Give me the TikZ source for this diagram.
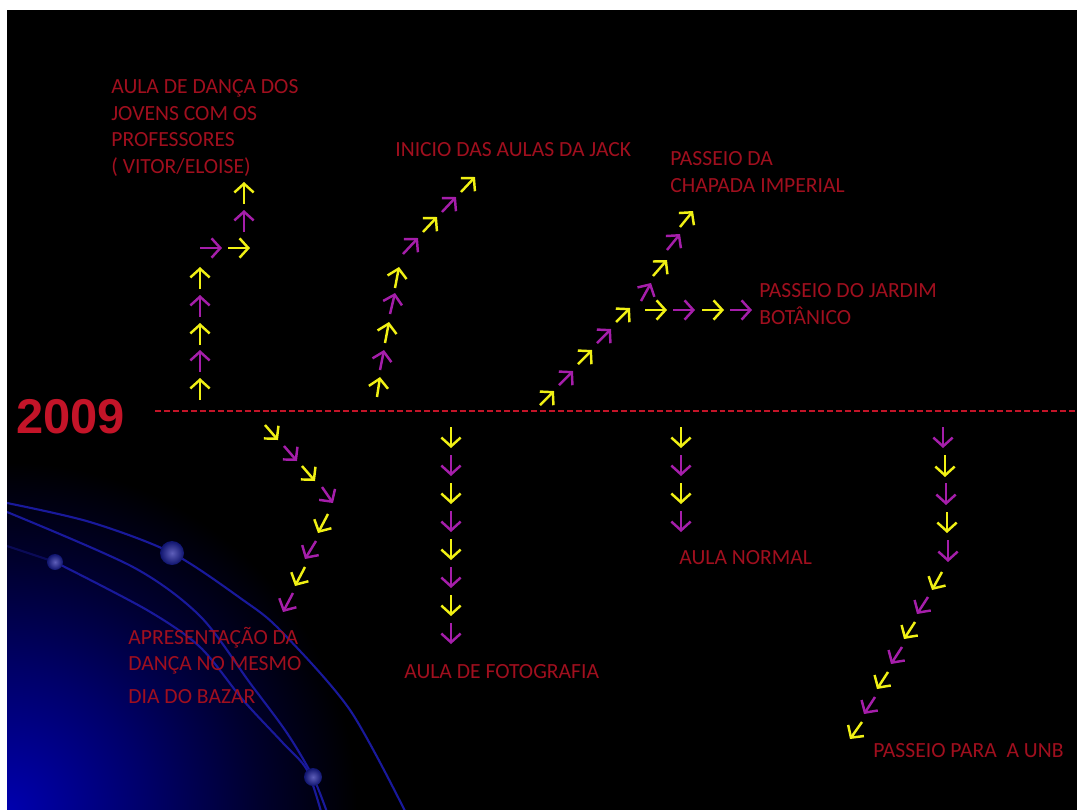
\documentclass[tikz,border=0pt]{standalone}
\usepackage{fontspec}
\setmainfont{Carlito}
\newfontfamily\anofont{Liberation Sans}
\usetikzlibrary{arrows.meta}

\definecolor{amarelo}{RGB}{240,240,20}
\definecolor{roxo}{RGB}{165,30,170}
\definecolor{vermelho}{RGB}{160,15,30}
\definecolor{vermelhoano}{RGB}{195,20,40}
\definecolor{azulfundo}{RGB}{0,0,175}
\definecolor{azulmeio}{RGB}{0,0,105}
\definecolor{azulescuro}{RGB}{0,0,45}
\definecolor{azularco}{RGB}{25,25,155}
\definecolor{azulbola}{RGB}{15,20,110}

\pgfdeclareradialshading{fundo}{\pgfpoint{0bp}{0bp}}{color(0bp)=(azulfundo); color(10bp)=(azulmeio); color(18bp)=(azulescuro); color(25bp)=(black); color(50bp)=(black)}

\begin{document}
\begin{tikzpicture}[x=0.02cm,y=-0.02cm,
	seta/.style={line width=1.4pt,-{Straight Barb[length=5pt,width=11pt]}},
	am/.style={seta,draw=amarelo},
	rx/.style={seta,draw=roxo},
	rotulo/.style={text=vermelho,font=\fontsize{12.3}{15}\selectfont,align=left,anchor=base west,inner sep=0pt},
	arco/.style={draw=azularco,line width=1.2pt},
	bola/.style={inner color=azularco!70!white,outer color=azulbola}]
	\useasboundingbox (0,0) rectangle (1077,809);
	\fill[white] (0,0) rectangle (1077,809);
	\fill[black] (7,10) rectangle (1080,812);
	% fundo azul e orbitas
	\begin{scope}
		\clip (7,10) rectangle (1080,812);
		\shade[shading=fundo] (7,812) circle (350);
		\draw[arco] plot[smooth] coordinates {(7,503) (90,522) (172,553) (243,600) (280,630) (350,710) (407,815)};
		\draw[arco] plot[smooth] coordinates {(7,512) (133,567) (200,616) (250,683) (287,733) (313,777) (328,815)};
		\draw[arco] plot[smooth] coordinates {(55,562) (147,610) (200,647) (243,700) (283,743) (307,770) (322,815)};
		\draw[arco,draw opacity=0.4] (7,546) -- (55,562);
		\shade[bola] (172,553) circle (12);
		\shade[bola] (55,562) circle (8);
		\shade[bola] (313,777) circle (9);
	\end{scope}
	% linha do tempo
	\node[text=vermelhoano,font=\anofont\bfseries\fontsize{27.8}{30}\selectfont,anchor=base west,inner sep=0pt] (ano) at (16,433) {2009};
	\coordinate (inicio) at (155,411);
	\coordinate (fim) at (1077,411);
	\draw[vermelhoano,line width=1.1pt,dash pattern=on 3.4pt off 1.7pt] (inicio) -- (fim);
	% danca dos jovens
	\foreach \y/\c in {400/am,372/rx,345/am,317/rx,289/am}
		\draw[\c] (200,\y) -- (200,\y-22);
	\draw[rx] (200,248) -- (222,248);
	\draw[am] (228,248) -- (250,248);
	\draw[rx] (244,232) -- (244,210);
	\draw[am] (244,204) -- (244,182);
	% aulas da jack
	\draw[am] (377,397) -- (380,377);
	\draw[rx] (380,370) -- (384,350);
	\draw[am] (385,343) -- (389,322);
	\draw[rx] (390,314) -- (395,293);
	\draw[am] (395,288) -- (399,267);
	\draw[rx] (403,254) -- (418,238);
	\draw[am] (423,232) -- (437,217);
	\draw[rx] (442,212) -- (456,197);
	\draw[am] (461,192) -- (475,177);
	% chapada e jardim
	\draw[am] (540,405) -- (554,391);
	\draw[rx] (559,385) -- (573,371);
	\draw[am] (578,364) -- (592,350);
	\draw[rx] (597,343) -- (611,329);
	\draw[am] (616,322) -- (630,308);
	\draw[rx] (641,301) -- (651,283);
	\draw[am] (653,276) -- (667,260);
	\draw[rx] (667,250) -- (680,234);
	\draw[am] (680,227) -- (693,211);
	\foreach \x/\c in {645/am,673/rx,702/am,730/rx}
		\draw[\c] (\x,310) -- (\x+22,310);
	% bazar
	\draw[am] (265,425) -- (278,440);
	\draw[rx] (284,446) -- (297,461);
	\draw[am] (302,466) -- (315,481);
	\draw[rx] (322,487) -- (333,503);
	\draw[am] (328,514) -- (318,533);
	\draw[rx] (316,541) -- (305,559);
	\draw[am] (305,567) -- (295,586);
	\draw[rx] (293,593) -- (283,612);
	% fotografia e aula normal
	\foreach \y/\c in {427/am,455/rx,483/am,511/rx,539/am,567/rx,595/am,623/rx}
		\draw[\c] (451,\y) -- (451,\y+21);
	\foreach \y/\c in {427/am,455/rx,483/am,511/rx}
		\draw[\c] (681,\y) -- (681,\y+21);
	% unb
	\draw[rx] (943,427) -- (943,448);
	\draw[am] (945,455) -- (945,477);
	\draw[rx] (946,483) -- (946,505);
	\draw[am] (947,512) -- (947,533);
	\draw[rx] (948,540) -- (948,562);
	\draw[am] (942,572) -- (932,590);
	\draw[rx] (928,597) -- (917,614);
	\draw[am] (915,622) -- (904,639);
	\draw[rx] (902,647) -- (891,664);
	\draw[am] (888,672) -- (877,689);
	\draw[rx] (875,697) -- (864,714);
	\draw[am] (862,722) -- (850,739);
	% rotulos (base = ultima linha)
	\node[rotulo] (danca) at (111,173) {AULA DE DANÇA DOS\\JOVENS COM OS\\PROFESSORES\\( VITOR/ELOISE)};
	\node[rotulo] (jack) at (395,156) {INICIO DAS AULAS DA JACK};
	\node[rotulo] (chapada) at (670,192) {PASSEIO DA\\CHAPADA IMPERIAL};
	\node[rotulo] (jardim) at (759,324) {PASSEIO DO JARDIM\\BOTÂNICO};
	\node[rotulo] (bazar) at (128,703) {APRESENTAÇÃO DA\\DANÇA NO MESMO\\[3.5pt]DIA DO BAZAR};
	\node[rotulo] (foto) at (404,678) {AULA DE FOTOGRAFIA};
	\node[rotulo] (normal) at (679,564) {AULA NORMAL};
	\node[rotulo] (unb) at (873,757) {PASSEIO PARA\ \ A UNB};
\end{tikzpicture}
\end{document}
